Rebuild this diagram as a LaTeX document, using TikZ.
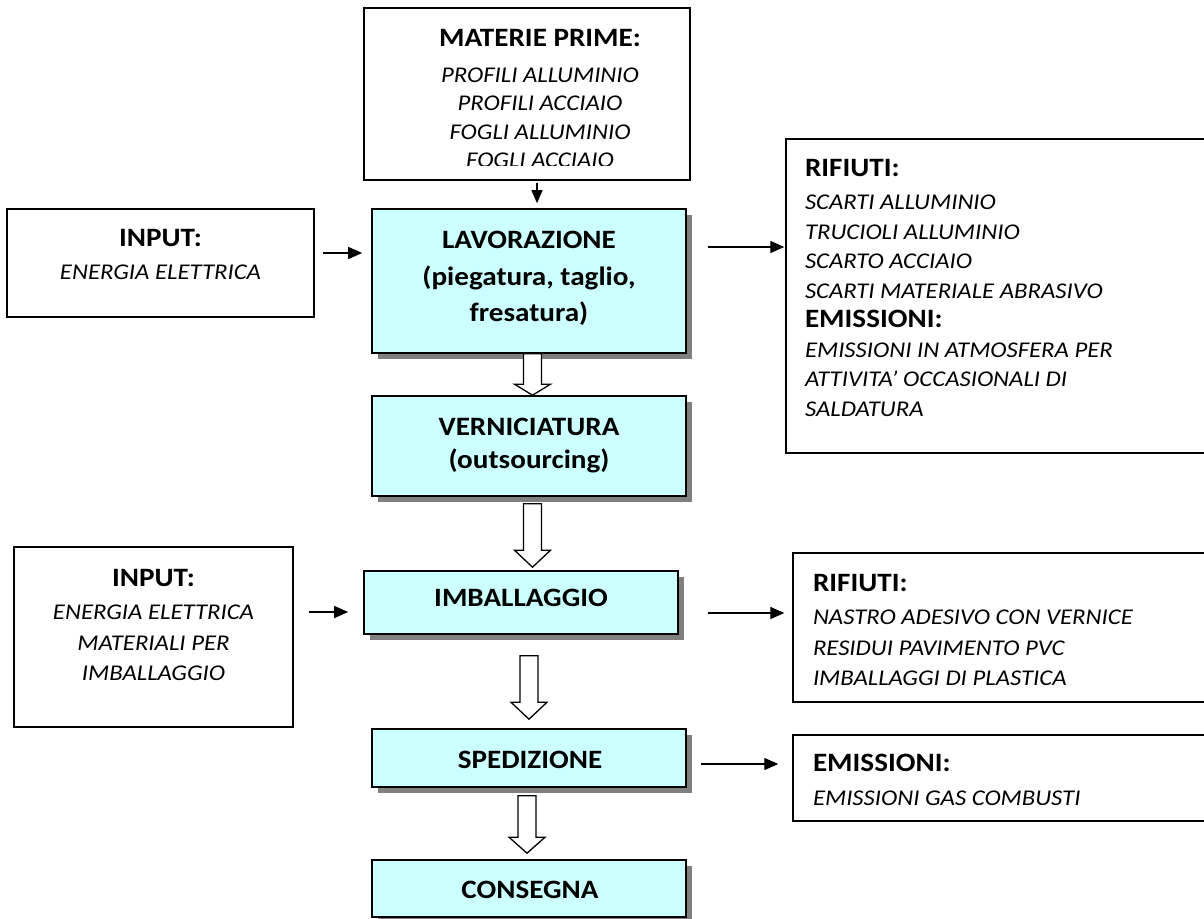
\documentclass[tikz,border=0pt]{standalone}
\usepackage{fontspec}
\setmainfont{Carlito}[FakeStretch=1.1]
\usetikzlibrary{arrows.meta,calc,shadows}
\definecolor{boxcyan}{RGB}{204,255,255}
\definecolor{shadowgray}{RGB}{128,128,128}
\newcommand\hdfont{\fontsize{26.5}{29.5}\selectfont\bfseries\upshape}
\newcommand\itfont[1]{\fontsize{22.5}{#1}\selectfont\itshape}
\newcommand\bdfont[1]{\fontsize{26.5}{#1}\selectfont\bfseries}
\tikzset{
  mainbox/.style={draw, line width=1.6pt, fill=boxcyan, inner sep=0pt,
    minimum width=314pt, minimum height=#1,
    drop shadow={shadow xshift=6pt, shadow yshift=-6pt, fill=shadowgray, opacity=1}},
  sidebox/.style={draw, line width=1.4pt, fill=white, inner sep=0pt},
  txt/.style={inner sep=0pt, outer sep=0pt},
  arr/.style={line width=1.3pt, -{Triangle[length=14pt,width=12pt]}},
  smallarr/.style={line width=1.3pt, -{Triangle[length=13pt,width=11pt]}},
  holst/.style={draw, fill=white, line width=1.3pt, line join=miter}
}
% hollow arrow: from node, to node, x centre, top gap, bottom gap, head length
\newcommand\holarrow[6]{%
  \draw[holst] let \p1=(#1.south), \p2=(#2.north),
    \n1={\y1-#4pt}, \n2={\y2+#5pt}, \n3={\y2+#5pt+#6pt} in
    (#3pt-9pt,\n1) -- (#3pt+9pt,\n1) -- (#3pt+9pt,\n3) -- (#3pt+18pt,\n3)
    -- (#3pt,\n2) -- (#3pt-18pt,\n3) -- (#3pt-9pt,\n3) -- cycle;}
\begin{document}
\begin{tikzpicture}[x=1pt,y=-1pt]
\useasboundingbox (0,0) rectangle (1204,918);
\fill[white] (0,0) rectangle (1204,918);

% ---- boxes ----
\node[sidebox, minimum width=326pt, minimum height=172pt] (mp) at (527,94) {};
\node[mainbox=144pt] (lav) at (529,281) {};
\node[mainbox=100pt] (ver) at (529,446) {};
\node[mainbox=63pt]  (imb) at (521,602.5) {};
\node[mainbox=58pt]  (spe) at (529,758) {};
\node[mainbox=57pt]  (con) at (529,888.5) {};
\node[sidebox, minimum width=307pt, minimum height=108pt] (in1) at (160.5,263) {};
\node[sidebox, minimum width=279pt, minimum height=180pt] (in2) at (153.5,637) {};
\node[sidebox, minimum width=434pt, minimum height=314pt] (rif1) at (1003,296) {};
\node[sidebox, minimum width=427pt, minimum height=149pt] (rif2) at (1006.5,627.5) {};
\node[sidebox, minimum width=427pt, minimum height=86pt]  (emi) at (1006.5,778) {};

% ---- texts ----
\begin{scope}
\clip (364,8) rectangle (690,165);
\node[txt, anchor=base, font=\itfont{28.5}] (mpT) at (540,46.5) {\begin{tabular}[t]{@{}c@{}}{\hdfont MATERIE PRIME:}\\[7pt]
PROFILI ALLUMINIO\\ PROFILI ACCIAIO\\ FOGLI ALLUMINIO\\ FOGLI ACCIAIO\end{tabular}};
\end{scope}

\node[txt, anchor=base, font=\bdfont{36.5}] (lavT) at (529,248.5) {\begin{tabular}[t]{@{}c@{}}LAVORAZIONE\\ (piegatura, taglio,\\ fresatura)\end{tabular}};
\node[txt, anchor=base, font=\bdfont{33}] (verT) at (529,435.5) {\begin{tabular}[t]{@{}c@{}}VERNICIATURA\\ (outsourcing)\end{tabular}};
\node[txt, anchor=base, font=\bdfont{30}] (imbT) at (521,606.5) {IMBALLAGGIO};
\node[txt, anchor=base, font=\bdfont{30}] (speT) at (530,768) {SPEDIZIONE};
\node[txt, anchor=base, font=\bdfont{30}] (conT) at (530,898) {CONSEGNA};

\node[txt, anchor=base, font=\itfont{28.5}] (in1T) at (160.5,246.5) {\begin{tabular}[t]{@{}c@{}}{\hdfont INPUT:}\\[4pt] ENERGIA ELETTRICA\end{tabular}};
\node[txt, anchor=base, font=\itfont{30.5}] (in2T) at (153.5,586.5) {\begin{tabular}[t]{@{}c@{}}{\hdfont INPUT:}\\[2.5pt] ENERGIA ELETTRICA\\ MATERIALI PER\\ IMBALLAGGIO\end{tabular}};

\node[txt, anchor=base west, font=\itfont{29.5}] (rif1T) at (805,176.5) {\begin{tabular}[t]{@{}l@{}}{\hdfont RIFIUTI:}\\[3.5pt]
SCARTI ALLUMINIO\\ TRUCIOLI ALLUMINIO\\ SCARTO ACCIAIO\\ SCARTI MATERIALE ABRASIVO\\
{\hdfont EMISSIONI:}\\ EMISSIONI IN ATMOSFERA PER\\ ATTIVITA’ OCCASIONALI DI\\ SALDATURA\end{tabular}};
\node[txt, anchor=base west, font=\itfont{30.5}] (rif2T) at (813,591.5) {\begin{tabular}[t]{@{}l@{}}{\hdfont RIFIUTI:}\\[2.5pt]
NASTRO ADESIVO CON VERNICE\\ RESIDUI PAVIMENTO PVC\\ IMBALLAGGI DI PLASTICA\end{tabular}};
\node[txt, anchor=base west, font=\itfont{34}] (emiT) at (813,771.5) {\begin{tabular}[t]{@{}l@{}}{\hdfont EMISSIONI:}\\
EMISSIONI GAS COMBUSTI\end{tabular}};

% ---- connectors ----
\draw[smallarr] ($(mp.south)+(10,2)$) -- ($(lav.north)+(8,-5)$);
\draw[arr] ($(in1.east)+(8,-10)$) -- ($(lav.west)+(-9,-28)$);
\draw[arr] ($(lav.east)+(21,-34)$) -- ($(rif1.west)+(-1,-49)$);
\draw[arr] ($(in2.east)+(15,-25)$) -- ($(imb.west)+(-15,9.5)$);
\draw[arr] ($(imb.east)+(29,10.5)$) -- ($(rif2.west)+(-8,-14.5)$);
\draw[arr] ($(spe.east)+(14,6)$) -- ($(emi.west)+(-14,-14)$);

\holarrow{lav}{ver}{532.5}{0}{0}{11}
\holarrow{ver}{imb}{532.5}{7}{3}{17}
\holarrow{imb}{spe}{529}{21}{9}{17}
\holarrow{spe}{con}{527}{8}{6}{16}
\end{tikzpicture}
\end{document}
